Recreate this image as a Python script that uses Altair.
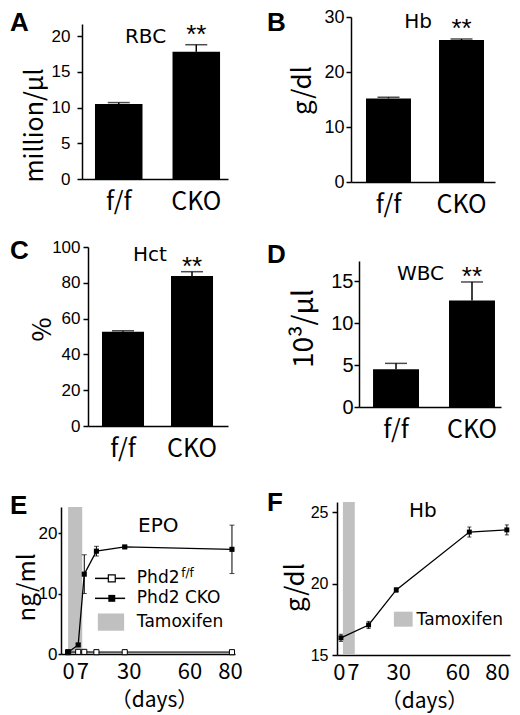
import altair as alt
import pandas as pd

# ---------------- data ----------------
groups = ["f/f", "CKO"]
rbc_mean = [10.5, 17.8]
rbc_err = [0.2, 1.0]
hb_mean = [15.2, 25.8]
hb_err = [0.2, 0.2]
hct_mean = [52.7, 83.8]
hct_err = [0.5, 2.4]
wbc_mean = [4.5, 12.7]
wbc_err = [0.7, 2.2]

epo_days = [0, 5, 8, 14, 28, 81]
epo_ff = [0.3, 0.35, 0.35, 0.3, 0.3, 0.3]
epo_cko = [0.3, 1.5, 13.2, 17.0, 17.7, 17.3]
epo_cko_err = [0.1, 0.2, 3.2, 0.8, 0.2, 4.0]

hbt_days = [1, 15, 29, 66, 85]
hbt_cko = [16.2, 17.1, 19.55, 23.6, 23.75]
hbt_err = [0.25, 0.25, 0.15, 0.35, 0.35]

tamox_e = [0, 7]
tamox_f = [2, 8]
day_ticks = [0, 7, 30, 60, 80]

# ---------------- styles ----------------
TICKF = "Liberation Sans"
JP = "Noto Sans CJK JP"
TXT = "DejaVu Sans"
GRAY = "#c0c0c0"


def letter_title(letter, off, dx):
    return alt.TitleParams(text=letter, anchor="start", frame="group", orient="top",
                           offset=off, dx=dx, baseline="top", font=TICKF, fontSize=26,
                           fontWeight="bold", color="black")


def y_axis(x0, g):
    return alt.Axis(orient="left", offset=-x0, values=g["yt"], grid=False,
                    domainColor="black", domainWidth=1.5, tickColor="black",
                    tickWidth=1.5, tickSize=g.get("tsz", 5), labelFont=TICKF,
                    labelFontSize=g["tfs"], labelColor="black", labelPadding=g["tpad"],
                    labelFlush=False, title=g["title"], titleFont=JP,
                    titleFontSize=g["titfs"], titleFontWeight="normal", titleColor="black",
                    titleAngle=270, titleAlign="center", titleBaseline="middle",
                    titleX=g["tx"] - x0, titleY=g["ty"])


def bar_panel(letter, mean, err, note, g):
    df = pd.DataFrame({"group": groups, "value": mean,
                       "upper": [m + e for m, e in zip(mean, err)]})
    W, H = g["W"], g["H"]
    x0, x1 = g["xr"]
    xscale = alt.Scale(domain=groups, range=[x0, x1], paddingInner=g["pin"],
                       paddingOuter=g["pout"], align=g["al"])
    yscale = alt.Scale(domain=g["yd"], range=g["yr"], nice=False, zero=False)
    xaxis = alt.Axis(orient="bottom", offset=g["yr"][0] - H, ticks=False, tickSize=0,
                     labelAngle=0, labelFont=JP, labelFontSize=25, labelColor="black",
                     labelPadding=10, domainColor="black", domainWidth=1.5, grid=False,
                     title=None)
    x = alt.X("group:N", sort=groups, scale=xscale, axis=xaxis)
    xs = alt.X("group:N", sort=groups)
    y = alt.Y("value:Q", scale=yscale, axis=y_axis(x0, g))
    base = alt.Chart(df)
    bars = base.mark_bar(color="black").encode(x=x, y=y)
    stems = base.mark_rule(color="black", strokeWidth=1.5).encode(
        x=xs, y=alt.Y("value:Q"), y2="upper:Q")
    caps = base.mark_tick(color="black", thickness=1.5, size=22,
                          orient="horizontal").encode(x=xs, y=alt.Y("upper:Q"))
    note_df = pd.DataFrame({"group": [groups[0]], "value": [g["ny"]], "label": [note]})
    notes = alt.Chart(note_df).mark_text(font=TXT, fontSize=20, color="black",
                                         dx=g["ndx"], baseline="middle").encode(
        x=xs, y="value:Q", text="label:N")
    star_df = pd.DataFrame({"group": [groups[1]], "value": [g["sy"]], "label": ["**"]})
    stars = alt.Chart(star_df).mark_text(font=TICKF, fontSize=26, color="black",
                                         baseline="alphabetic").encode(
        x=xs, y="value:Q", text="label:N")
    return alt.layer(bars, stems, caps, notes, stars).properties(
        width=W, height=H, title=letter_title(letter, g["loff"], g["ldx"]))


geo_a = dict(W=252, H=228, xr=[74, 220], pin=0.387, pout=0.135, al=0.62,
             yd=[0, 21.7], yr=[171, 16], yt=[0, 5, 10, 15, 20], tfs=17, tpad=7,
             title="million/µl", titfs=25, tx=26, ty=117, ny=19.9, ndx=26.75,
             sy=19.05, loff=-28, ldx=2)
geo_b = dict(W=252, H=228, xr=[91, 235], pin=0.384, pout=0.178, al=0.577,
             yd=[0, 30], yr=[174, 9], yt=[0, 10, 20, 30], tfs=18, tpad=2,
             title="g/dl", titfs=26, tx=42, ty=82, ny=29.1, ndx=29.5,
             sy=26.4, loff=-28, ldx=7)
geo_c = dict(W=252, H=250, xr=[80, 220], pin=0.391, pout=0.21, al=0.483,
             yd=[0, 100], yr=[190, 11], yt=[0, 20, 40, 60, 80, 100], tfs=17, tpad=3,
             title="%", titfs=26, tx=34.5, ty=93, ny=95.5, ndx=27,
             sy=84.4, loff=-28, ldx=2)
geo_d = dict(W=252, H=250, xr=[99, 241], pin=0.395, pout=0.132, al=0.7,
             yd=[0, 17.4], yr=[171, 25], yt=[0, 5, 10, 15], tfs=20, tpad=1,
             title="10³/µl", titfs=28, tx=44.5, ty=92, ny=15.8, ndx=24.5,
             sy=14.5, loff=-32, ldx=7)

pa = bar_panel("A", rbc_mean, rbc_err, "RBC", geo_a)
pb = bar_panel("B", hb_mean, hb_err, "Hb", geo_b)
pc = bar_panel("C", hct_mean, hct_err, "Hct", geo_c)
pdd = bar_panel("D", wbc_mean, wbc_err, "WBC", geo_d)


def x_days_axis(offset, tx):
    return alt.Axis(orient="bottom", offset=offset, values=day_ticks, ticks=False,
                    tickSize=0, labelFont=JP, labelFontSize=22, labelColor="black",
                    labelPadding=7, labelFlush=False, labelAngle=0, labelOverlap=False,
                    domainColor="black", domainWidth=1.5, grid=False,
                    title="（days）", titleFont=JP, titleFontSize=21,
                    titleFontWeight="normal", titleColor="black", titleX=tx, titleY=46,
                    titleAlign="center", titleBaseline="middle")


# ---------------- panel E ----------------
ge = dict(yt=[0, 10, 20], tfs=17, tpad=1, tsz=3, title="ng/ml", titfs=24, tx=19, ty=101)
xs_e = alt.Scale(domain=[-3.5, 82.5], range=[53, 227], nice=False, zero=False)
ys_e = alt.Scale(domain=[0, 24.3], range=[168, 21], nice=False, zero=False)
band_e = alt.Chart(pd.DataFrame({"day": [tamox_e[0]], "day2": [tamox_e[1]],
                                 "v": [0.0], "v2": [24.3]})).mark_rect(color=GRAY).encode(
    x=alt.X("day:Q", scale=xs_e, axis=x_days_axis(168 - 221, 146)), x2="day2:Q",
    y=alt.Y("v:Q", scale=ys_e, axis=y_axis(53, ge)), y2="v2:Q")
ed = pd.DataFrame({"day": epo_days, "ff": epo_ff, "cko": epo_cko,
                   "lo": [c - e for c, e in zip(epo_cko, epo_cko_err)],
                   "hi": [c + e for c, e in zip(epo_cko, epo_cko_err)]})
eb = alt.Chart(ed)
ff_line = eb.mark_line(color="#555555", strokeWidth=2).encode(x="day:Q", y="ff:Q")
cko_line = eb.mark_line(color="black", strokeWidth=1.3).encode(x="day:Q", y="cko:Q")
e_err = eb.mark_rule(color="black", strokeWidth=1).encode(x="day:Q", y="lo:Q", y2="hi:Q")
e_cap_hi = eb.mark_tick(color="black", size=5, thickness=1, orient="horizontal").encode(
    x="day:Q", y="hi:Q")
e_cap_lo = eb.mark_tick(color="black", size=5, thickness=1, orient="horizontal").encode(
    x="day:Q", y="lo:Q")
ff_pts = eb.mark_square(size=26, fill="white", stroke="black", strokeWidth=1,
                        opacity=1).encode(x="day:Q", y="ff:Q")
cko_pts = eb.mark_square(size=26, color="black", opacity=1).encode(x="day:Q", y="cko:Q")

# annotation / manual legend placement (layout, in data space)
e_lab = alt.Chart(pd.DataFrame({"day": [44.6], "v": [21.2], "t": ["EPO"]})).mark_text(
    font=TXT, fontSize=20, color="black", baseline="middle").encode(
    x="day:Q", y="v:Q", text="t:N")
e_leg_lines = alt.Chart(pd.DataFrame({"day": [13.3, 13.3], "day2": [28.2, 28.2],
                                      "v": [12.5, 9.2]})).mark_rule(
    color="black", strokeWidth=1.5).encode(x="day:Q", x2="day2:Q", y="v:Q")
e_leg_open = alt.Chart(pd.DataFrame({"day": [21.6], "v": [12.5]})).mark_square(
    size=48, fill="white", stroke="black", strokeWidth=1.2, opacity=1).encode(
    x="day:Q", y="v:Q")
e_leg_fill = alt.Chart(pd.DataFrame({"day": [21.6], "v": [9.2]})).mark_square(
    size=48, color="black", opacity=1).encode(x="day:Q", y="v:Q")
e_leg_rect = alt.Chart(pd.DataFrame({"day": [14.7], "day2": [27.7], "v": [3.85],
                                     "v2": [6.7]})).mark_rect(color=GRAY).encode(
    x="day:Q", x2="day2:Q", y="v:Q", y2="v2:Q")
e_leg_text = alt.Chart(pd.DataFrame({"day": [34.0, 34.0, 34.0], "v": [12.5, 9.2, 5.3],
                                     "t": ["Phd2", "Phd2 CKO", "Tamoxifen"]})).mark_text(
    font=TXT, fontSize=17, color="black", align="left", baseline="middle").encode(
    x="day:Q", y="v:Q", text="t:N")
e_leg_sup = alt.Chart(pd.DataFrame({"day": [55.9], "v": [13.4], "t": ["f/f"]})).mark_text(
    font=TXT, fontSize=12, color="black", align="left", baseline="middle").encode(
    x="day:Q", y="v:Q", text="t:N")

pe = alt.layer(band_e, ff_line, cko_line, e_err, e_cap_hi, e_cap_lo, ff_pts, cko_pts,
               e_lab, e_leg_lines, e_leg_rect, e_leg_open, e_leg_fill, e_leg_text,
               e_leg_sup).properties(width=252, height=221,
                                     title=letter_title("E", -33, 2))

# ---------------- panel F ----------------
gf = dict(yt=[15, 20, 25], tfs=16, tpad=4, tsz=5, title="g/dl", titfs=26, tx=35, ty=101)
xs_f = alt.Scale(domain=[-1, 86.6], range=[77, 250], nice=False, zero=False)
ys_f = alt.Scale(domain=[15, 25.7], range=[169, 16], nice=False, zero=False)
band_f = alt.Chart(pd.DataFrame({"day": [tamox_f[0]], "day2": [tamox_f[1]],
                                 "v": [15.0], "v2": [25.7]})).mark_rect(color=GRAY).encode(
    x=alt.X("day:Q", scale=xs_f, axis=x_days_axis(169 - 221, 164)), x2="day2:Q",
    y=alt.Y("v:Q", scale=ys_f, axis=y_axis(77, gf)), y2="v2:Q")
fd = pd.DataFrame({"day": hbt_days, "v": hbt_cko,
                   "lo": [c - e for c, e in zip(hbt_cko, hbt_err)],
                   "hi": [c + e for c, e in zip(hbt_cko, hbt_err)]})
fb = alt.Chart(fd)
f_line = fb.mark_line(color="black", strokeWidth=1.3).encode(x="day:Q", y="v:Q")
f_err = fb.mark_rule(color="black", strokeWidth=1).encode(x="day:Q", y="lo:Q", y2="hi:Q")
f_cap_hi = fb.mark_tick(color="black", size=4, thickness=1, orient="horizontal").encode(
    x="day:Q", y="hi:Q")
f_cap_lo = fb.mark_tick(color="black", size=4, thickness=1, orient="horizontal").encode(
    x="day:Q", y="lo:Q")
f_pts = fb.mark_square(size=24, color="black", opacity=1).encode(x="day:Q", y="v:Q")
f_lab = alt.Chart(pd.DataFrame({"day": [42.5], "v": [25.07], "t": ["Hb"]})).mark_text(
    font=TXT, fontSize=20, color="black", baseline="middle").encode(
    x="day:Q", y="v:Q", text="t:N")
f_leg_rect = alt.Chart(pd.DataFrame({"day": [27.8], "day2": [37.3], "v": [16.98],
                                     "v2": [18.03]})).mark_rect(color=GRAY).encode(
    x="day:Q", x2="day2:Q", y="v:Q", y2="v2:Q")
f_leg_text = alt.Chart(pd.DataFrame({"day": [39.3], "v": [17.48],
                                     "t": ["Tamoxifen"]})).mark_text(
    font=TXT, fontSize=17, color="black", align="left", baseline="middle").encode(
    x="day:Q", y="v:Q", text="t:N")

pf = alt.layer(band_f, f_line, f_err, f_cap_hi, f_cap_lo, f_pts, f_lab, f_leg_rect,
               f_leg_text).properties(width=252, height=221,
                                      title=letter_title("F", -30, 7))

chart = alt.concat(pa, pb, pc, pdd, pe, pf, columns=2, spacing=0, bounds="flush").properties(
    padding={"left": 0, "top": 0, "right": 0, "bottom": 12},
    background="white").configure_view(stroke=None)

chart.save("out.html", embed_options={"renderer": "svg", "actions": False})
